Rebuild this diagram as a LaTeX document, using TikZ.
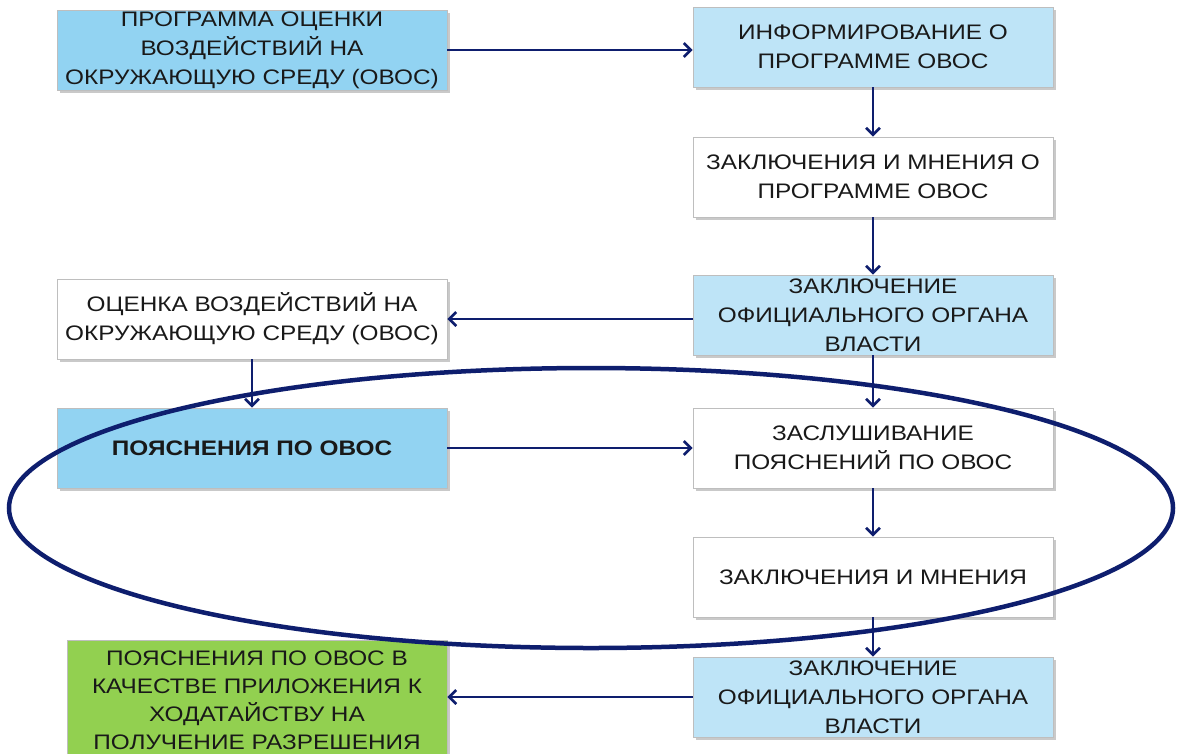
\documentclass[tikz,border=0pt]{standalone}
\usepackage{fontspec}
\setmainfont[FakeStretch=1.16]{Liberation Sans}
\usetikzlibrary{arrows.meta,shadows}
\definecolor{navy}{RGB}{14,30,110}
\definecolor{blueA}{RGB}{146,211,242}
\definecolor{blueB}{RGB}{190,228,247}
\definecolor{greenA}{RGB}{146,208,80}
\definecolor{boxline}{RGB}{190,190,190}
\tikzset{
  box/.style={draw=boxline, line width=0.8pt, align=center, inner sep=0pt,
    font=\fontsize{21}{29}\selectfont, text=black!90,
    drop shadow={shadow xshift=2.5pt, shadow yshift=-2.5pt, opacity=0.35, fill=black!60}},
  lbox/.style={box, minimum width=390pt, minimum height=80pt},
  rbox/.style={box, minimum width=360pt, minimum height=80pt},
  arr/.style={draw=navy, line width=2.6pt, -{Straight Barb[length=7pt,width=14pt]}},
}
\begin{document}
\begin{tikzpicture}[x=1pt,y=-1pt]
\useasboundingbox (0,0) rectangle (1177,753);
\fill[white] (0,0) rectangle (1177,753);
% left column
\node[lbox, fill=blueA] (L1) at (252,50) {ПРОГРАММА  ОЦЕНКИ\\ВОЗДЕЙСТВИЙ НА\\ОКРУЖАЮЩУЮ  СРЕДУ  (ОВОС)};
\node[lbox, fill=white] (L2) at (252,319) {ОЦЕНКА ВОЗДЕЙСТВИЙ НА\\ОКРУЖАЮЩУЮ  СРЕДУ  (ОВОС)};
\node[lbox, fill=blueA, font=\fontsize{21}{29}\selectfont\bfseries] (L3) at (252,448) {ПОЯСНЕНИЯ ПО ОВОС};
\node[box, fill=greenA, minimum width=380pt, minimum height=120pt, font=\fontsize{21}{28}\selectfont] (G) at (257,700) {ПОЯСНЕНИЯ ПО ОВОС В\\КАЧЕСТВЕ ПРИЛОЖЕНИЯ К\\ХОДАТАЙСТВУ НА\\ПОЛУЧЕНИЕ  РАЗРЕШЕНИЯ};
% right column
\node[rbox, fill=blueB] (R1) at (873,47) {ИНФОРМИРОВАНИЕ  О\\ПРОГРАММЕ  ОВОС};
\node[rbox, fill=white] (R2) at (873,177) {ЗАКЛЮЧЕНИЯ И МНЕНИЯ О\\ПРОГРАММЕ  ОВОС};
\node[rbox, fill=blueB] (R3) at (873,315) {ЗАКЛЮЧЕНИЕ\\ОФИЦИАЛЬНОГО ОРГАНА\\ВЛАСТИ};
\node[rbox, fill=white] (R4) at (873,448) {ЗАСЛУШИВАНИЕ\\ПОЯСНЕНИЙ ПО ОВОС};
\node[rbox, fill=white] (R5) at (873,577) {ЗАКЛЮЧЕНИЯ И МНЕНИЯ};
\node[rbox, fill=blueB] (R6) at (873,697) {ЗАКЛЮЧЕНИЕ\\ОФИЦИАЛЬНОГО ОРГАНА\\ВЛАСТИ};
% connectors
\draw[arr] (L1.east) -- (L1.east -| R1.west);
\draw[arr] (R1.south) -- (R2.north);
\draw[arr] (R2.south) -- (R3.north);
\draw[arr] (R3.west |- L2.east) -- (L2.east);
\draw[arr] (L2.south) -- (L3.north);
\draw[arr] (R3.south) -- (R4.north);
\draw[arr] (L3.east) -- (R4.west);
\draw[arr] (R4.south) -- (R5.north);
\draw[arr] (R5.south) -- (R6.north);
\draw[arr] (R6.west) -- (R6.west -| G.east);
% ellipse
\coordinate (EC) at (591,508);
\draw[navy, line width=4.5pt] (EC) ellipse [x radius=582, y radius=140];
\end{tikzpicture}
\end{document}
